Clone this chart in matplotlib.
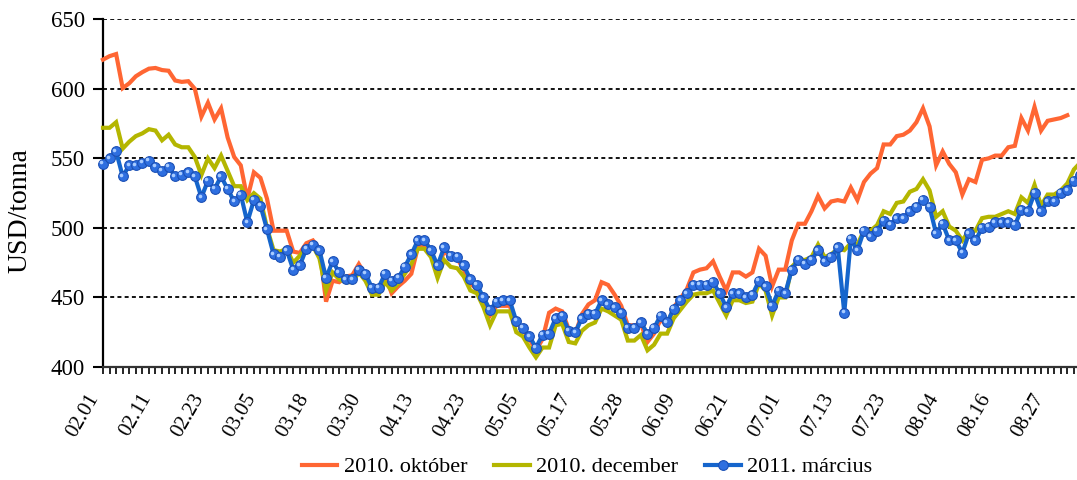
import matplotlib
matplotlib.use("Agg")
import matplotlib.pyplot as plt
import matplotlib.transforms as mtransforms

plt.rcParams['font.family'] = ['Liberation Serif', 'DejaVu Serif']

tick_labels = ["02.01", "02.11", "02.23", "03.05", "03.18", "03.30", "04.13",
               "04.23", "05.05", "05.17", "05.28", "06.09", "06.21", "07.01",
               "07.13", "07.23", "08.04", "08.16", "08.27"]

oct2010 = [621, 623.5, 625, 600.5, 604, 609, 612, 614.5, 615, 613.5,
           613, 606, 605, 605.5, 600, 580, 590, 578, 586, 565,
           551, 545, 521, 540, 536, 521, 498, 498, 498, 483,
           482, 489, 491, 485, 447, 462, 461, 465, 466, 474,
           466, 455, 455, 466, 453, 458, 462, 467, 486, 488,
           483, 468, 484, 478, 478, 470, 460, 456, 448, 437,
           444, 444, 444, 432, 427, 420, 412, 420, 439, 442,
           440, 427, 424, 438, 445, 448, 461, 459, 452, 444,
           430, 430, 431, 418, 424, 434, 430, 443, 449, 456,
           468, 470, 471, 476, 465, 455, 468, 468, 465, 468,
           485, 480, 458, 470, 470, 491, 503, 503, 512, 523,
           514, 519, 520, 519, 529, 520, 533, 539, 543, 560,
           560, 566, 567, 570, 576, 586, 573, 545, 555, 546,
           540, 524, 535, 533, 549, 550, 552, 552, 558, 559,
           579, 570, 587, 570, 577, 578, 579, 581]

dec2010 = [572, 572, 576, 557, 562, 566, 568, 571, 570, 563,
           567, 560, 558, 558, 551, 538, 550, 543, 552, 541,
           530, 530, 520, 525, 521, 500, 484, 483, 485, 475,
           480, 486, 487, 478, 455, 468, 463, 461, 461, 468,
           462, 452, 452, 461, 455, 460, 467, 474, 485, 485,
           479, 464, 477, 472, 471, 465, 455, 453, 443, 430,
           440, 440, 440, 425, 422, 414, 407, 414, 414, 430,
           431, 418, 417, 426, 430, 432, 442, 440, 437, 434,
           419, 419, 423, 412, 416, 424, 424, 435, 441, 447,
           452, 453, 453, 455, 446, 437, 448, 448, 446, 447,
           460, 455, 437, 450, 450, 472, 477, 477, 479, 488,
           479, 481, 485, 484, 489, 488, 498, 498, 502, 512,
           510, 518, 519, 526, 528, 535, 527, 508, 512, 501,
           498, 491, 498, 498, 507, 508, 508, 510, 512, 510,
           522, 518, 531, 516, 524, 524, 527, 532, 542, 547]

mar2011 = [546, 550, 555, 537, 545, 545, 547, 548, 544, 541,
           544, 537, 538, 540, 537, 522, 534, 528, 537, 528,
           519, 524, 504, 520, 516, 499, 481, 479, 484, 470,
           473, 485, 488, 484, 464, 476, 468, 463, 463, 470,
           467, 457, 457, 467, 462, 464, 472, 481, 491, 491,
           484, 473, 486, 480, 479, 473, 463, 459, 450, 441,
           447, 448, 448, 433, 428, 422, 414, 423, 424, 435,
           437, 426, 425, 435, 438, 438, 448, 445, 443, 439,
           428, 428, 432, 424, 428, 437, 432, 442, 448, 453,
           459, 459, 459, 461, 453, 443, 453, 453, 450, 452,
           462, 458, 444, 455, 453, 470, 477, 474, 477, 484,
           476, 479, 486, 439, 492, 484, 498, 494, 498, 505,
           502, 507, 507, 512, 515, 520, 515, 496, 503, 491,
           491, 482, 496, 491, 500, 501, 504, 504, 504, 502,
           513, 512, 525, 512, 519, 519, 525, 527, 534, 538]

series_names = ["2010. október", "2010. december", "2011. március"]

W, H = 1077, 480
fig = plt.figure(figsize=(W / 100, H / 100), dpi=100)
ax = fig.add_axes([103 / W, 1 - 367 / H, (W - 103) / W, (367 - 19.3) / H])

x_oct = list(range(len(oct2010)))
x_dec = list(range(len(dec2010)))
x_mar = list(range(len(mar2011)))

ax.plot(x_oct, oct2010, color='#FF6633', lw=3.0, solid_joinstyle='miter',
        label=series_names[0], zorder=3, clip_on=False)
ax.plot(x_dec, dec2010, color='#B4B600', lw=3.0, solid_joinstyle='miter',
        label=series_names[1], zorder=4, clip_on=False)
ax.plot(x_mar, mar2011, color='#1565CC', lw=3.0, marker='o', ms=7.0,
        markerfacecolor='#2E6FE0', markeredgecolor='#1A4FB5', markeredgewidth=0.8,
        label=series_names[2], zorder=5, clip_on=False)
# highlight on spheres
hl = mtransforms.offset_copy(ax.transData, fig=fig, x=-1.2, y=1.2, units='points')
ax.plot(x_mar, mar2011, ls='none', marker='o', ms=2.6, markerfacecolor='#A9CCFF',
        markeredgewidth=0, transform=hl, zorder=6, clip_on=False)

ax.set_ylim(400, 650)
ax.set_xlim(0, (W - 103) / 6.56)
ax.set_yticks([400, 450, 500, 550, 600, 650])
for v in [450, 500, 550, 600, 650]:
    ax.axhline(v, color='black', lw=1.3, ls=(0, (2.2, 1.8)), zorder=1)

major_pos = list(range(0, 8 * len(tick_labels), 8))
ax.set_xticks(major_pos)
ax.set_xticklabels(tick_labels, rotation=60, ha='right', va='top',
                   rotation_mode='default', fontsize=15)
shift = mtransforms.ScaledTranslation(3 / 72, 0, fig.dpi_scale_trans)
for lab in ax.get_xticklabels():
    lab.set_transform(lab.get_transform() + shift)
ax.set_xticks(list(range(0, 149)), minor=True)
ax.tick_params(axis='x', which='both', direction='out', length=5, width=1.2,
               color='black', pad=12)
ax.tick_params(axis='y', direction='out', length=7, width=1.5, labelsize=16.5, pad=6)

for s in ['top', 'right']:
    ax.spines[s].set_visible(False)
ax.spines['left'].set_linewidth(1.6)
ax.spines['bottom'].set_linewidth(1.6)
ax.spines['bottom'].set_color('#333333')

fig.text(20 / W, 1 - 211 / H, "USD/tonna", rotation=90, ha='center', va='center',
         fontsize=20)

fig.legend(loc='center', bbox_to_anchor=(587 / W, 1 - 467 / H), ncol=3,
           frameon=False, fontsize=16, handlelength=1.6, columnspacing=1.2,
           handletextpad=0.3)

fig.savefig("out.png", dpi=100)
